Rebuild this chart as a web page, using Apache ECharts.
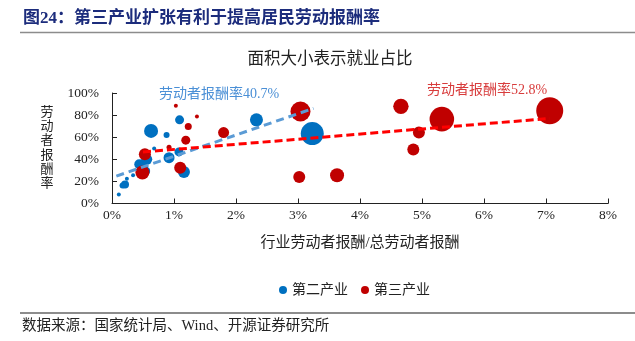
<!DOCTYPE html>
<html>
<head>
<meta charset="utf-8">
<script src="https://cdn.jsdelivr.net/npm/echarts@6/dist/echarts.min.js"></script>
<style>html,body{margin:0;padding:0;background:#fff}#c{width:635px;height:341px}</style>
</head>
<body>
<div id="c"></div>
<script>
// x: 行业劳动者报酬/总劳动者报酬 (%), y: 劳动者报酬率 (%), s: 就业占比 (bubble area)
var secondX = [3.23, 2.33, 0.63, 1.09, 0.88, 0.68, 0.92, 1.08, 1.16, 0.56, 0.44, 0.55, 0.34, 0.24, 0.21, 0.17, 0.11, 0.50];
var secondY = [63.3, 75.7, 65.7, 75.7, 62.1, 49.7, 41.5, 46.7, 28.5, 40.0, 35.5, 29.4, 25.5, 22.5, 17.3, 16.4, 8.2, 33.0];
var secondS = [5.3, 1.7, 1.96, 0.81, 0.36, 0.16, 1.21, 0.81, 1.44, 1.21, 1.0, 0.64, 0.16, 0.16, 0.64, 0.36, 0.16, 1.0];

var thirdX = [7.06, 5.32, 4.66, 4.95, 4.86, 3.04, 3.02, 3.63, 1.80, 1.03, 1.37, 1.23, 1.19, 0.92, 0.53, 0.49, 1.10];
var thirdY = [83.9, 76.4, 87.9, 64.2, 48.8, 83.3, 23.9, 25.5, 64.2, 88.5, 78.8, 69.7, 57.3, 50.9, 44.5, 28.0, 32.4];
var thirdS = [7.29, 6.05, 2.37, 1.44, 1.44, 4.0, 1.44, 1.96, 1.21, 0.16, 0.16, 0.49, 0.81, 0.25, 1.44, 1.96, 1.44];

var secondTrend = [[0.07, 24.8], [3.25, 86.1]];
var thirdTrend = [[0.50, 46.6], [7.06, 77.0]];

var xTicks = [0, 1, 2, 3, 4, 5, 6, 7, 8];
var yTicks = [0, 20, 40, 60, 80, 100];

var seriesNames = ['第二产业', '第三产业'];
var headerText = '图24：第三产业扩张有利于提高居民劳动报酬率';
var chartTitle = '面积大小表示就业占比';
var xName = '行业劳动者报酬/总劳动者报酬';
var yName = '劳动者报酬率';
var note2 = '劳动者报酬率40.7%';
var note3 = '劳动者报酬率52.8%';
var sourceText = '数据来源：国家统计局、Wind、开源证券研究所';

function zip(xs, ys, ss) { return xs.map(function (x, i) { return [x, ys[i], ss[i]]; }); }

var FONT = "'Liberation Serif', 'Noto Sans CJK SC', serif";
var chart = echarts.init(document.getElementById('c'), null, {renderer: 'canvas'});
var axisCommon = {
  axisLine: {show: true, lineStyle: {color: '#222', width: 1}},
  axisTick: {show: true, inside: true, length: 5, lineStyle: {color: '#222'}},
  splitLine: {show: false}
};
chart.setOption({
  animation: false,
  backgroundColor: '#fff',
  grid: {left: 112, right: 27, top: 93, bottom: 137.5},
  xAxis: Object.assign({
    type: 'value', min: xTicks[0], max: xTicks[xTicks.length - 1], interval: 1,
    name: xName, nameLocation: 'middle', nameGap: 32,
    nameTextStyle: {fontFamily: FONT, fontSize: 15, color: '#222'},
    axisLabel: {formatter: '{value}%', fontFamily: FONT, fontSize: 13.5, color: '#222', margin: 5}
  }, axisCommon),
  yAxis: Object.assign({
    type: 'value', min: yTicks[0], max: yTicks[yTicks.length - 1], interval: 20,
    axisLabel: {formatter: '{value}%', fontFamily: FONT, fontSize: 13.5, color: '#222', margin: 13}
  }, axisCommon),
  legend: {
    data: seriesNames, left: 274, top: 278, padding: 5, icon: 'circle', itemWidth: 8, itemHeight: 8, itemGap: 13,
    textStyle: {fontFamily: FONT, fontSize: 14, color: '#222'}
  },
  series: [
    {name: seriesNames[0], type: 'scatter', data: zip(secondX, secondY, secondS),
      symbolSize: function (d) { return Math.sqrt(d[2]) * 10; },
      itemStyle: {color: '#0070C0', opacity: 1}, z: 2},
    {name: seriesNames[1], type: 'scatter', data: zip(thirdX, thirdY, thirdS),
      symbolSize: function (d) { return Math.sqrt(d[2]) * 10; },
      itemStyle: {color: '#C00000', opacity: 1}, z: 3},
    {type: 'line', data: secondTrend, symbol: 'none', z: 5, silent: true,
      lineStyle: {color: '#5B9BD5', width: 3, type: [8, 5]}},
    {type: 'line', data: thirdTrend, symbol: 'none', z: 5, silent: true,
      lineStyle: {color: '#FF0000', width: 3, type: [8, 4]}}
  ],
  graphic: [
    {type: 'text', left: 23, top: 10, style: {text: headerText, font: "bold 17px " + FONT, fill: '#1c2c7c'}},
    {type: 'line', shape: {x1: 20, y1: 32.5, x2: 635, y2: 32.5}, style: {stroke: '#8c8c8c', lineWidth: 1.5}},
    {type: 'text', x: 330, y: 60, style: {text: chartTitle, font: "16.5px " + FONT, fill: '#222', align: 'center', verticalAlign: 'middle'}},
    {type: 'text', x: 47, y: 148, style: {text: yName.split('').join('\n'), font: "13px " + FONT, lineHeight: 14.3, fill: '#222', align: 'center', verticalAlign: 'middle'}},
    {type: 'text', x: 159, y: 94, style: {text: note2, font: "14px " + FONT, fill: '#4a8fd6', verticalAlign: 'middle'}},
    {type: 'text', x: 427, y: 90, style: {text: note3, font: "14px " + FONT, fill: '#d83c3c', verticalAlign: 'middle'}},
    {type: 'line', shape: {x1: 20, y1: 313, x2: 635, y2: 313}, style: {stroke: '#8c8c8c', lineWidth: 2}},
    {type: 'text', x: 22, y: 326, style: {text: sourceText, font: "14.5px " + FONT, fill: '#222', verticalAlign: 'middle'}}
  ]
});
</script>
</body>
</html>
